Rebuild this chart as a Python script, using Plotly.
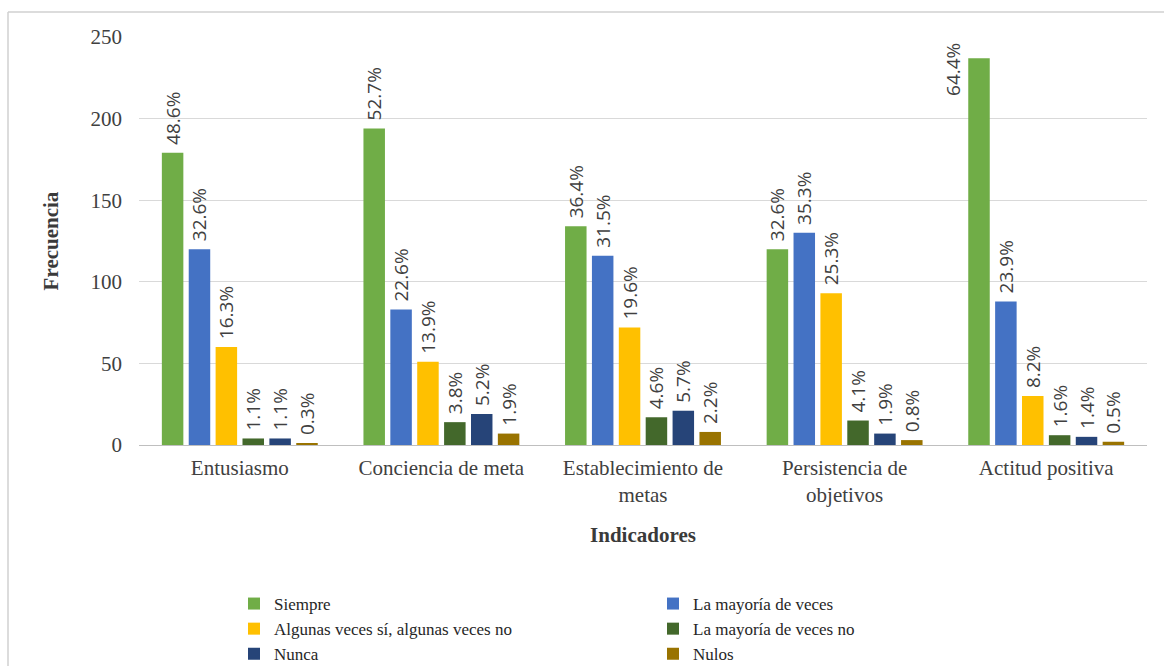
import plotly.graph_objects as go

# Indicadores evaluados
categorias = [
    "Entusiasmo",
    "Conciencia de meta",
    "Establecimiento de<br>metas",
    "Persistencia de<br>objetivos",
    "Actitud positiva",
]

# Frecuencias por respuesta (N = 368)
series = ["Siempre", "La mayoría de veces", "Algunas veces sí, algunas veces no",
          "La mayoría de veces no", "Nunca", "Nulos"]
siempre = [179, 194, 134, 120, 237]
mayoria = [120, 83, 116, 130, 88]
algunas = [60, 51, 72, 93, 30]
mayoria_no = [4, 14, 17, 15, 6]
nunca = [4, 19, 21, 7, 5]
nulos = [1, 7, 8, 3, 2]

# Porcentajes mostrados sobre cada barra
pct_siempre = ["48.6%", "52.7%", "36.4%", "32.6%", "64.4%"]
pct_mayoria = ["32.6%", "22.6%", "31.5%", "35.3%", "23.9%"]
pct_algunas = ["16.3%", "13.9%", "19.6%", "25.3%", "8.2%"]
pct_mayoria_no = ["1.1%", "3.8%", "4.6%", "4.1%", "1.6%"]
pct_nunca = ["1.1%", "5.2%", "5.7%", "1.9%", "1.4%"]
pct_nulos = ["0.3%", "1.9%", "2.2%", "0.8%", "0.5%"]

valores = [siempre, mayoria, algunas, mayoria_no, nunca, nulos]
etiquetas = [pct_siempre, pct_mayoria, pct_algunas, pct_mayoria_no, pct_nunca, pct_nulos]
colores = ["#70AD47", "#4472C4", "#FFC000", "#43682B", "#264478", "#997300"]

W, H = 1164, 666
M_L, M_R, M_T, M_B = 139, 17, 37, 221
BARGAP, GROUPGAP = 0.2, 0.2

SERIF = "Liberation Serif, Times New Roman, serif"
SANS = "Open Sans, sans-serif"
TXT = "#404040"
LBL_SIZE = 19

fig = go.Figure()
for k, nombre in enumerate(series):
    # espacio inicial para separar la etiqueta del extremo de la barra
    txt = ["\u00a0" + t for t in etiquetas[k]]
    # la etiqueta de la barra más alta se coloca al costado
    if k == 0:
        txt[4] = ""
    fig.add_trace(go.Bar(
        name=nombre,
        x=categorias,
        y=valores[k],
        marker=dict(color=colores[k], line=dict(width=0)),
        text=txt,
        textposition="outside",
        textangle=-90,
        constraintext="none",
        cliponaxis=False,
        textfont=dict(family=SANS, size=LBL_SIZE, color=TXT),
        hovertemplate="%{x}<br>" + nombre + ": %{y}<extra></extra>",
    ))

# posición del borde izquierdo de la barra "Siempre" en "Actitud positiva"
n_series = len(series)
slot = (1 - BARGAP) / n_series
borde_izq = 4 - (1 - BARGAP) / 2 + slot * GROUPGAP / 2
fig.add_annotation(
    x=borde_izq, y=siempre[4], xref="x", yref="y",
    text=pct_siempre[4], textangle=-90, showarrow=False,
    xanchor="right", yanchor="top", xshift=-1, yshift=17,
    font=dict(family=SANS, size=LBL_SIZE, color=TXT),
)

# marco gris del gráfico (bordes superior e izquierdo)
pw = W - M_L - M_R
ph = H - M_T - M_B
fx = lambda px: (px - M_L) / pw
fy = lambda py: 1 - (py - M_T) / ph
marco = dict(color="#D0D0D0", width=1.5)
fig.add_shape(type="line", xref="paper", yref="paper",
              x0=fx(8), x1=fx(W), y0=fy(12), y1=fy(12), line=marco)
fig.add_shape(type="line", xref="paper", yref="paper",
              x0=fx(8), x1=fx(8), y0=fy(12), y1=fy(H), line=marco)

fig.update_layout(
    width=W, height=H,
    margin=dict(l=M_L, r=M_R, t=M_T, b=M_B, pad=0),
    paper_bgcolor="white", plot_bgcolor="white",
    barmode="group", bargap=BARGAP, bargroupgap=GROUPGAP,
    font=dict(family=SERIF, color=TXT),
    legend=dict(
        orientation="h",
        xref="container", yref="container",
        x=234 / W, y=1 - 586 / H, xanchor="left", yanchor="top",
        entrywidth=374, entrywidthmode="pixels",
        font=dict(family=SERIF, size=17, color="#262626"),
        itemwidth=30, tracegroupgap=0,
        bgcolor="rgba(0,0,0,0)",
    ),
    xaxis=dict(
        tickfont=dict(family=SERIF, size=21, color=TXT),
        showgrid=False, showline=False, ticks="",
        ticklabelstandoff=8,
        title=dict(text="<b>Indicadores</b>", standoff=21,
                   font=dict(family=SERIF, size=21, color="#3A3A3A")),
    ),
    yaxis=dict(
        range=[0, 250], dtick=50,
        tickfont=dict(family=SERIF, size=21, color=TXT),
        showgrid=True, gridcolor="#D9D9D9", gridwidth=1,
        zeroline=True, zerolinecolor="#BFBFBF", zerolinewidth=1,
        showline=False, ticks="",
        ticklabelstandoff=16,
        title=dict(text="<b>Frecuencia</b>", standoff=26,
                   font=dict(family=SERIF, size=21, color="#3A3A3A")),
    ),
)

fig.write_html("out.html")
